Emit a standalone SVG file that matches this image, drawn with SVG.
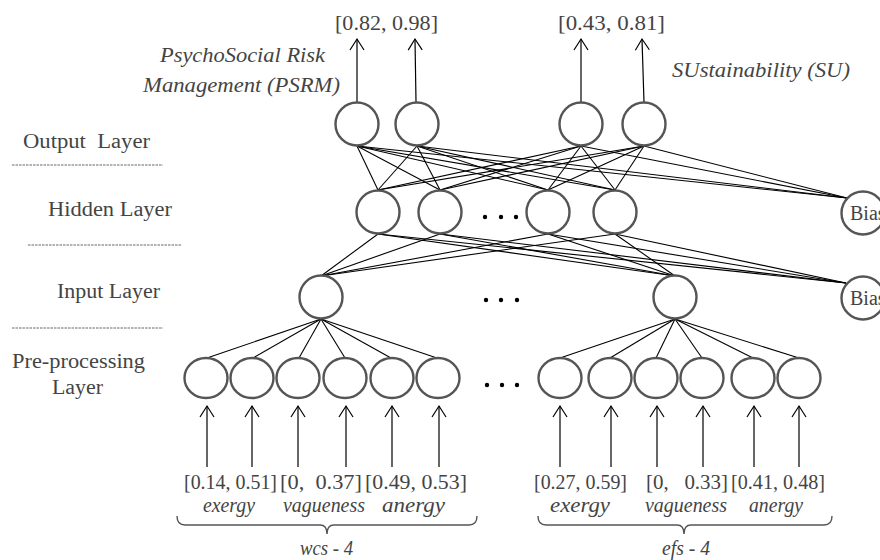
<svg xmlns="http://www.w3.org/2000/svg" width="880" height="560" viewBox="0 0 880 560">
<defs>
<style>
.nd{fill:#fff;stroke:#555;stroke-width:2.4}
.ln{stroke:#000;stroke-width:1.1;fill:none}
.ar{stroke:#000;stroke-width:1.2;fill:none;marker-end:url(#ah)}
.dash{stroke:#666;stroke-width:1;stroke-dasharray:2.5 1}
.br{stroke:#555;stroke-width:1.4;fill:none}
.t{font-family:"Liberation Serif","Times New Roman",serif;fill:#444;font-size:20px}
.i{font-style:italic}
.pre{white-space:pre}
.dot{fill:#000}
</style>
<marker id="ah" markerUnits="userSpaceOnUse" markerWidth="30" markerHeight="30" refX="0" refY="0" orient="auto" overflow="visible">
<path d="M-11,-7 L0,0 L-11,7" fill="none" stroke="#000" stroke-width="1.2"/>
</marker>
</defs>
<rect width="880" height="560" fill="#fff"/>

<g id="layer-labels">
<text class="t pre" x="23" y="148" textLength="127" lengthAdjust="spacingAndGlyphs">Output  Layer</text>
<line class="dash" x1="12" y1="165" x2="163" y2="165"/>
<text class="t" x="48" y="216" textLength="124" lengthAdjust="spacingAndGlyphs">Hidden Layer</text>
<line class="dash" x1="28" y1="245" x2="182" y2="245"/>
<text class="t" x="57" y="298" textLength="103" lengthAdjust="spacingAndGlyphs">Input Layer</text>
<line class="dash" x1="12" y1="328" x2="163" y2="328"/>
<text class="t" x="12" y="368" textLength="133" lengthAdjust="spacingAndGlyphs">Pre-processing</text>
<text class="t" x="52" y="394" textLength="51" lengthAdjust="spacingAndGlyphs">Layer</text>
</g>

<g id="connectors">
<!-- output to hidden -->
<line class="ln" x1="357" y1="146" x2="378" y2="190"/>
<line class="ln" x1="357" y1="146" x2="440" y2="190"/>
<line class="ln" x1="357" y1="146" x2="548" y2="190"/>
<line class="ln" x1="357" y1="146" x2="615" y2="190"/>
<line class="ln" x1="357" y1="146" x2="847" y2="198"/>
<line class="ln" x1="417" y1="146" x2="378" y2="190"/>
<line class="ln" x1="417" y1="146" x2="440" y2="190"/>
<line class="ln" x1="417" y1="146" x2="548" y2="190"/>
<line class="ln" x1="417" y1="146" x2="615" y2="190"/>
<line class="ln" x1="417" y1="146" x2="847" y2="198"/>
<line class="ln" x1="581" y1="146" x2="378" y2="190"/>
<line class="ln" x1="581" y1="146" x2="440" y2="190"/>
<line class="ln" x1="581" y1="146" x2="548" y2="190"/>
<line class="ln" x1="581" y1="146" x2="615" y2="190"/>
<line class="ln" x1="581" y1="146" x2="847" y2="198"/>
<line class="ln" x1="644" y1="146" x2="378" y2="190"/>
<line class="ln" x1="644" y1="146" x2="440" y2="190"/>
<line class="ln" x1="644" y1="146" x2="548" y2="190"/>
<line class="ln" x1="644" y1="146" x2="615" y2="190"/>
<line class="ln" x1="644" y1="146" x2="847" y2="198"/>
<!-- hidden to input -->
<line class="ln" x1="378" y1="234" x2="321" y2="276"/>
<line class="ln" x1="378" y1="234" x2="675" y2="276"/>
<line class="ln" x1="378" y1="234" x2="846" y2="283"/>
<line class="ln" x1="440" y1="234" x2="321" y2="276"/>
<line class="ln" x1="440" y1="234" x2="675" y2="276"/>
<line class="ln" x1="440" y1="234" x2="846" y2="283"/>
<line class="ln" x1="548" y1="234" x2="321" y2="276"/>
<line class="ln" x1="548" y1="234" x2="675" y2="276"/>
<line class="ln" x1="548" y1="234" x2="846" y2="283"/>
<line class="ln" x1="615" y1="234" x2="321" y2="276"/>
<line class="ln" x1="615" y1="234" x2="675" y2="276"/>
<line class="ln" x1="615" y1="234" x2="846" y2="283"/>
<!-- input to pre-processing -->
<line class="ln" x1="321" y1="319" x2="207" y2="358"/>
<line class="ln" x1="321" y1="319" x2="253" y2="358"/>
<line class="ln" x1="321" y1="319" x2="299" y2="358"/>
<line class="ln" x1="321" y1="319" x2="345" y2="358"/>
<line class="ln" x1="321" y1="319" x2="391" y2="358"/>
<line class="ln" x1="321" y1="319" x2="437" y2="358"/>
<line class="ln" x1="675" y1="319" x2="560" y2="358"/>
<line class="ln" x1="675" y1="319" x2="610" y2="358"/>
<line class="ln" x1="675" y1="319" x2="656" y2="358"/>
<line class="ln" x1="675" y1="319" x2="702" y2="358"/>
<line class="ln" x1="675" y1="319" x2="753" y2="358"/>
<line class="ln" x1="675" y1="319" x2="799" y2="358"/>
<!-- output arrows -->
<line class="ar" x1="357" y1="102" x2="357" y2="39"/>
<line class="ar" x1="416" y1="102" x2="415" y2="39"/>
<line class="ar" x1="581" y1="102" x2="581" y2="39"/>
<line class="ar" x1="644" y1="102" x2="642" y2="39"/>
<!-- input arrows -->
<line class="ar" x1="207" y1="467" x2="207" y2="406"/>
<line class="ar" x1="252" y1="467" x2="252" y2="406"/>
<line class="ar" x1="298" y1="467" x2="298" y2="406"/>
<line class="ar" x1="346" y1="467" x2="346" y2="406"/>
<line class="ar" x1="392" y1="467" x2="392" y2="406"/>
<line class="ar" x1="439" y1="467" x2="439" y2="406"/>
<line class="ar" x1="560" y1="467" x2="560" y2="406"/>
<line class="ar" x1="611" y1="467" x2="611" y2="406"/>
<line class="ar" x1="657" y1="467" x2="657" y2="406"/>
<line class="ar" x1="703" y1="467" x2="703" y2="406"/>
<line class="ar" x1="754" y1="467" x2="754" y2="406"/>
<line class="ar" x1="799" y1="467" x2="799" y2="406"/>
</g>

<g id="output-layer">
<g id="out1"><circle class="nd" cx="357" cy="124" r="21.5"/></g>
<g id="out2"><circle class="nd" cx="417" cy="124" r="21.5"/></g>
<g id="out3"><circle class="nd" cx="581" cy="124" r="21.5"/></g>
<g id="out4"><circle class="nd" cx="644" cy="124" r="21.5"/></g>
</g>
<g id="hidden-layer">
<g id="hid1"><circle class="nd" cx="378" cy="212" r="21.5"/></g>
<g id="hid2"><circle class="nd" cx="440" cy="212" r="21.5"/></g>
<g id="hid-dots"><circle class="dot" cx="485" cy="217" r="2.2"/><circle class="dot" cx="501" cy="217" r="2.2"/><circle class="dot" cx="516" cy="217" r="2.2"/></g>
<g id="hid3"><circle class="nd" cx="548" cy="212" r="21.5"/></g>
<g id="hid4"><circle class="nd" cx="615" cy="212" r="21.5"/></g>
<g id="bias1"><circle class="nd" cx="863" cy="213" r="21.5"/><text class="t" x="850" y="220" font-size="19">Bias</text></g>
</g>
<g id="input-layer">
<g id="in1"><circle class="nd" cx="321" cy="297" r="21.5"/></g>
<g id="in-dots"><circle class="dot" cx="486" cy="300" r="2.2"/><circle class="dot" cx="501" cy="300" r="2.2"/><circle class="dot" cx="517" cy="300" r="2.2"/></g>
<g id="in2"><circle class="nd" cx="675" cy="297" r="21.5"/></g>
<g id="bias2"><circle class="nd" cx="863" cy="298" r="21.5"/><text class="t" x="850" y="305" font-size="19">Bias</text></g>
</g>
<g id="pre-layer">
<g id="p1"><ellipse class="nd" cx="206" cy="378" rx="21.5" ry="20"/></g>
<g id="p2"><ellipse class="nd" cx="252" cy="378" rx="21.5" ry="20"/></g>
<g id="p3"><ellipse class="nd" cx="298" cy="378" rx="21.5" ry="20"/></g>
<g id="p4"><ellipse class="nd" cx="345" cy="378" rx="21.5" ry="20"/></g>
<g id="p5"><ellipse class="nd" cx="392" cy="378" rx="21.5" ry="20"/></g>
<g id="p6"><ellipse class="nd" cx="438" cy="378" rx="21.5" ry="20"/></g>
<g id="pre-dots"><circle class="dot" cx="487" cy="385" r="2.2"/><circle class="dot" cx="502" cy="385" r="2.2"/><circle class="dot" cx="517" cy="385" r="2.2"/></g>
<g id="p7"><ellipse class="nd" cx="560" cy="378" rx="21.5" ry="20"/></g>
<g id="p8"><ellipse class="nd" cx="610" cy="378" rx="21.5" ry="20"/></g>
<g id="p9"><ellipse class="nd" cx="656" cy="378" rx="21.5" ry="20"/></g>
<g id="p10"><ellipse class="nd" cx="702" cy="378" rx="21.5" ry="20"/></g>
<g id="p11"><ellipse class="nd" cx="753" cy="378" rx="21.5" ry="20"/></g>
<g id="p12"><ellipse class="nd" cx="799" cy="378" rx="21.5" ry="20"/></g>
</g>

<g id="top-labels">
<text class="t" x="335" y="30" textLength="103" lengthAdjust="spacingAndGlyphs">[0.82, 0.98]</text>
<text class="t" x="558" y="30" textLength="107" lengthAdjust="spacingAndGlyphs">[0.43, 0.81]</text>
<text class="t i" x="160" y="62" textLength="165" lengthAdjust="spacingAndGlyphs">PsychoSocial Risk</text>
<text class="t i" x="143" y="92" textLength="197" lengthAdjust="spacingAndGlyphs">Management (PSRM)</text>
<text class="t i" x="672" y="77" textLength="178" lengthAdjust="spacingAndGlyphs">SUstainability (SU)</text>
</g>

<g id="bottom-labels">
<text class="t" x="184" y="489" textLength="93" lengthAdjust="spacingAndGlyphs">[0.14, 0.51]</text>
<text class="t pre" x="280" y="489" textLength="82" lengthAdjust="spacingAndGlyphs">[0,  0.37]</text>
<text class="t" x="365" y="489" textLength="102" lengthAdjust="spacingAndGlyphs">[0.49, 0.53]</text>
<text class="t i" x="203" y="512" font-size="19" textLength="52" lengthAdjust="spacingAndGlyphs">exergy</text>
<text class="t i" x="283" y="512" font-size="19" textLength="82" lengthAdjust="spacingAndGlyphs">vagueness</text>
<text class="t i" x="382" y="512" font-size="19" textLength="63" lengthAdjust="spacingAndGlyphs">anergy</text>
<path class="br" d="M177,516 Q177,525 185,525 L320,525 Q327,525 327,534 Q327,525 334,525 L469,525 Q477,525 477,516"/>
<text class="t i" x="300" y="555" font-size="19" textLength="53" lengthAdjust="spacingAndGlyphs">wcs - 4</text>

<text class="t" x="534" y="489" textLength="93" lengthAdjust="spacingAndGlyphs">[0.27, 0.59]</text>
<text class="t pre" x="646" y="489" textLength="82" lengthAdjust="spacingAndGlyphs">[0,   0.33]</text>
<text class="t" x="731" y="489" textLength="94" lengthAdjust="spacingAndGlyphs">[0.41, 0.48]</text>
<text class="t i" x="550" y="512" font-size="19" textLength="60" lengthAdjust="spacingAndGlyphs">exergy</text>
<text class="t i" x="645" y="512" font-size="19" textLength="82" lengthAdjust="spacingAndGlyphs">vagueness</text>
<text class="t i" x="749" y="512" font-size="19" textLength="54" lengthAdjust="spacingAndGlyphs">anergy</text>
<path class="br" d="M538,516 Q538,525 546,525 L677,525 Q684,525 684,534 Q684,525 691,525 L824,525 Q832,525 832,516"/>
<text class="t i" x="662" y="555" font-size="19" textLength="48" lengthAdjust="spacingAndGlyphs">efs - 4</text>
</g>
</svg>
